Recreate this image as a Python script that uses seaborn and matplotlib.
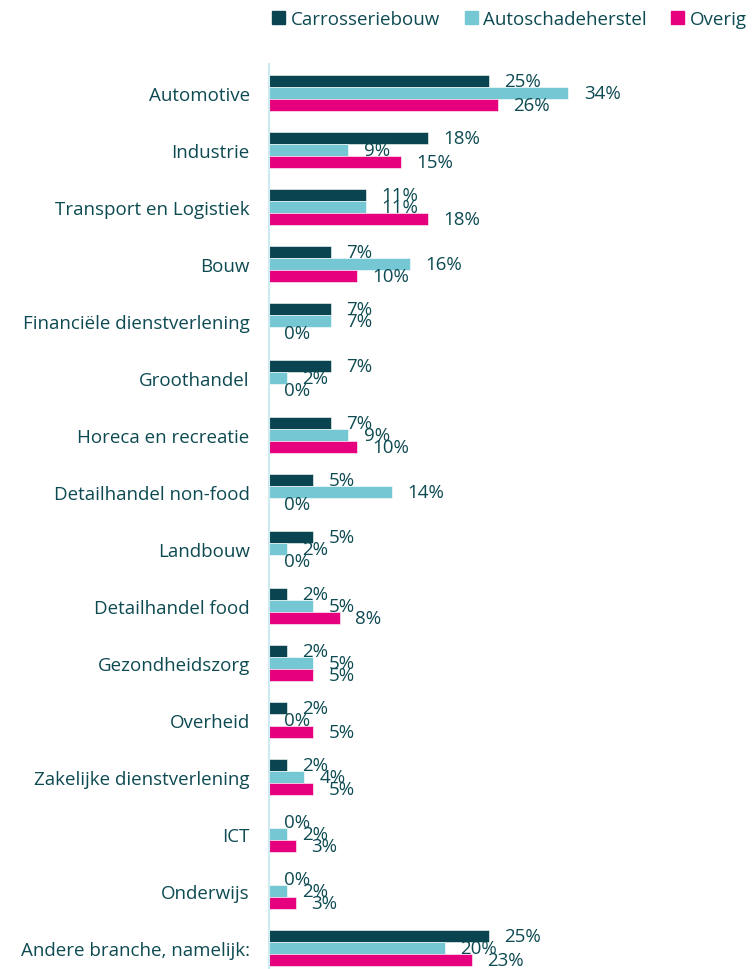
import pandas as pd
import seaborn as sns
import matplotlib.pyplot as plt

categories = ['Automotive', 'Industrie', 'Transport en Logistiek', 'Bouw',
              'Financiële dienstverlening', 'Groothandel', 'Horeca en recreatie',
              'Detailhandel non-food', 'Landbouw', 'Detailhandel food',
              'Gezondheidszorg', 'Overheid', 'Zakelijke dienstverlening', 'ICT',
              'Onderwijs', 'Andere branche, namelijk:']
carrosseriebouw = [25, 18, 11, 7, 7, 7, 7, 5, 5, 2, 2, 2, 2, 0, 0, 25]
autoschadeherstel = [34, 9, 11, 16, 7, 2, 9, 14, 2, 5, 5, 0, 4, 2, 2, 20]
overig = [26, 15, 18, 10, 0, 0, 10, 0, 0, 8, 5, 5, 5, 3, 3, 23]
series = ['Carrosseriebouw', 'Autoschadeherstel', 'Overig']
colors = ['#0a4450', '#74c7d3', '#e6007e']
text_col = '#0d4a52'

df = pd.DataFrame({
    'Branche': categories * 3,
    'Serie': [series[0]] * 16 + [series[1]] * 16 + [series[2]] * 16,
    'Waarde': carrosseriebouw + autoschadeherstel + overig,
})

sns.set_style('white')
plt.rcParams['font.family'] = ['Open Sans', 'DejaVu Sans']

fig = plt.figure(figsize=(7.54, 9.70), dpi=100)
ax = fig.add_axes([0.357, 0.0, 0.467, 0.933])

sns.barplot(data=df, y='Branche', x='Waarde', hue='Serie', orient='h',
            palette=colors, saturation=1, width=0.63, ax=ax, legend=False,
            edgecolor='white', linewidth=0.4)

for cont in ax.containers:
    ax.bar_label(cont, fmt='%d%%', padding=11, color=text_col, fontsize=13.5)

ax.set_xlim(0, 40)
ax.set_ylim(15.368, -0.509)
ax.set_xlabel('')
ax.set_ylabel('')
ax.set_xticks([])
ax.tick_params(axis='y', length=0, pad=14, labelsize=13.5, labelcolor=text_col)
for s in ['top', 'right', 'bottom']:
    ax.spines[s].set_visible(False)
ax.spines['left'].set_color('#cdebf0')
ax.spines['left'].set_linewidth(1.5)

handles = [plt.Rectangle((0, 0), 1, 1, color=c) for c in colors]
leg = fig.legend(handles, series, loc='upper left', bbox_to_anchor=(0.346, 1.0),
                 ncol=3, frameon=False, fontsize=13.5, handlelength=0.7,
                 handleheight=0.7, handletextpad=0.3, columnspacing=1.3,
                 borderaxespad=0.2)
for t in leg.get_texts():
    t.set_color(text_col)

fig.savefig('out.png', dpi=100)
